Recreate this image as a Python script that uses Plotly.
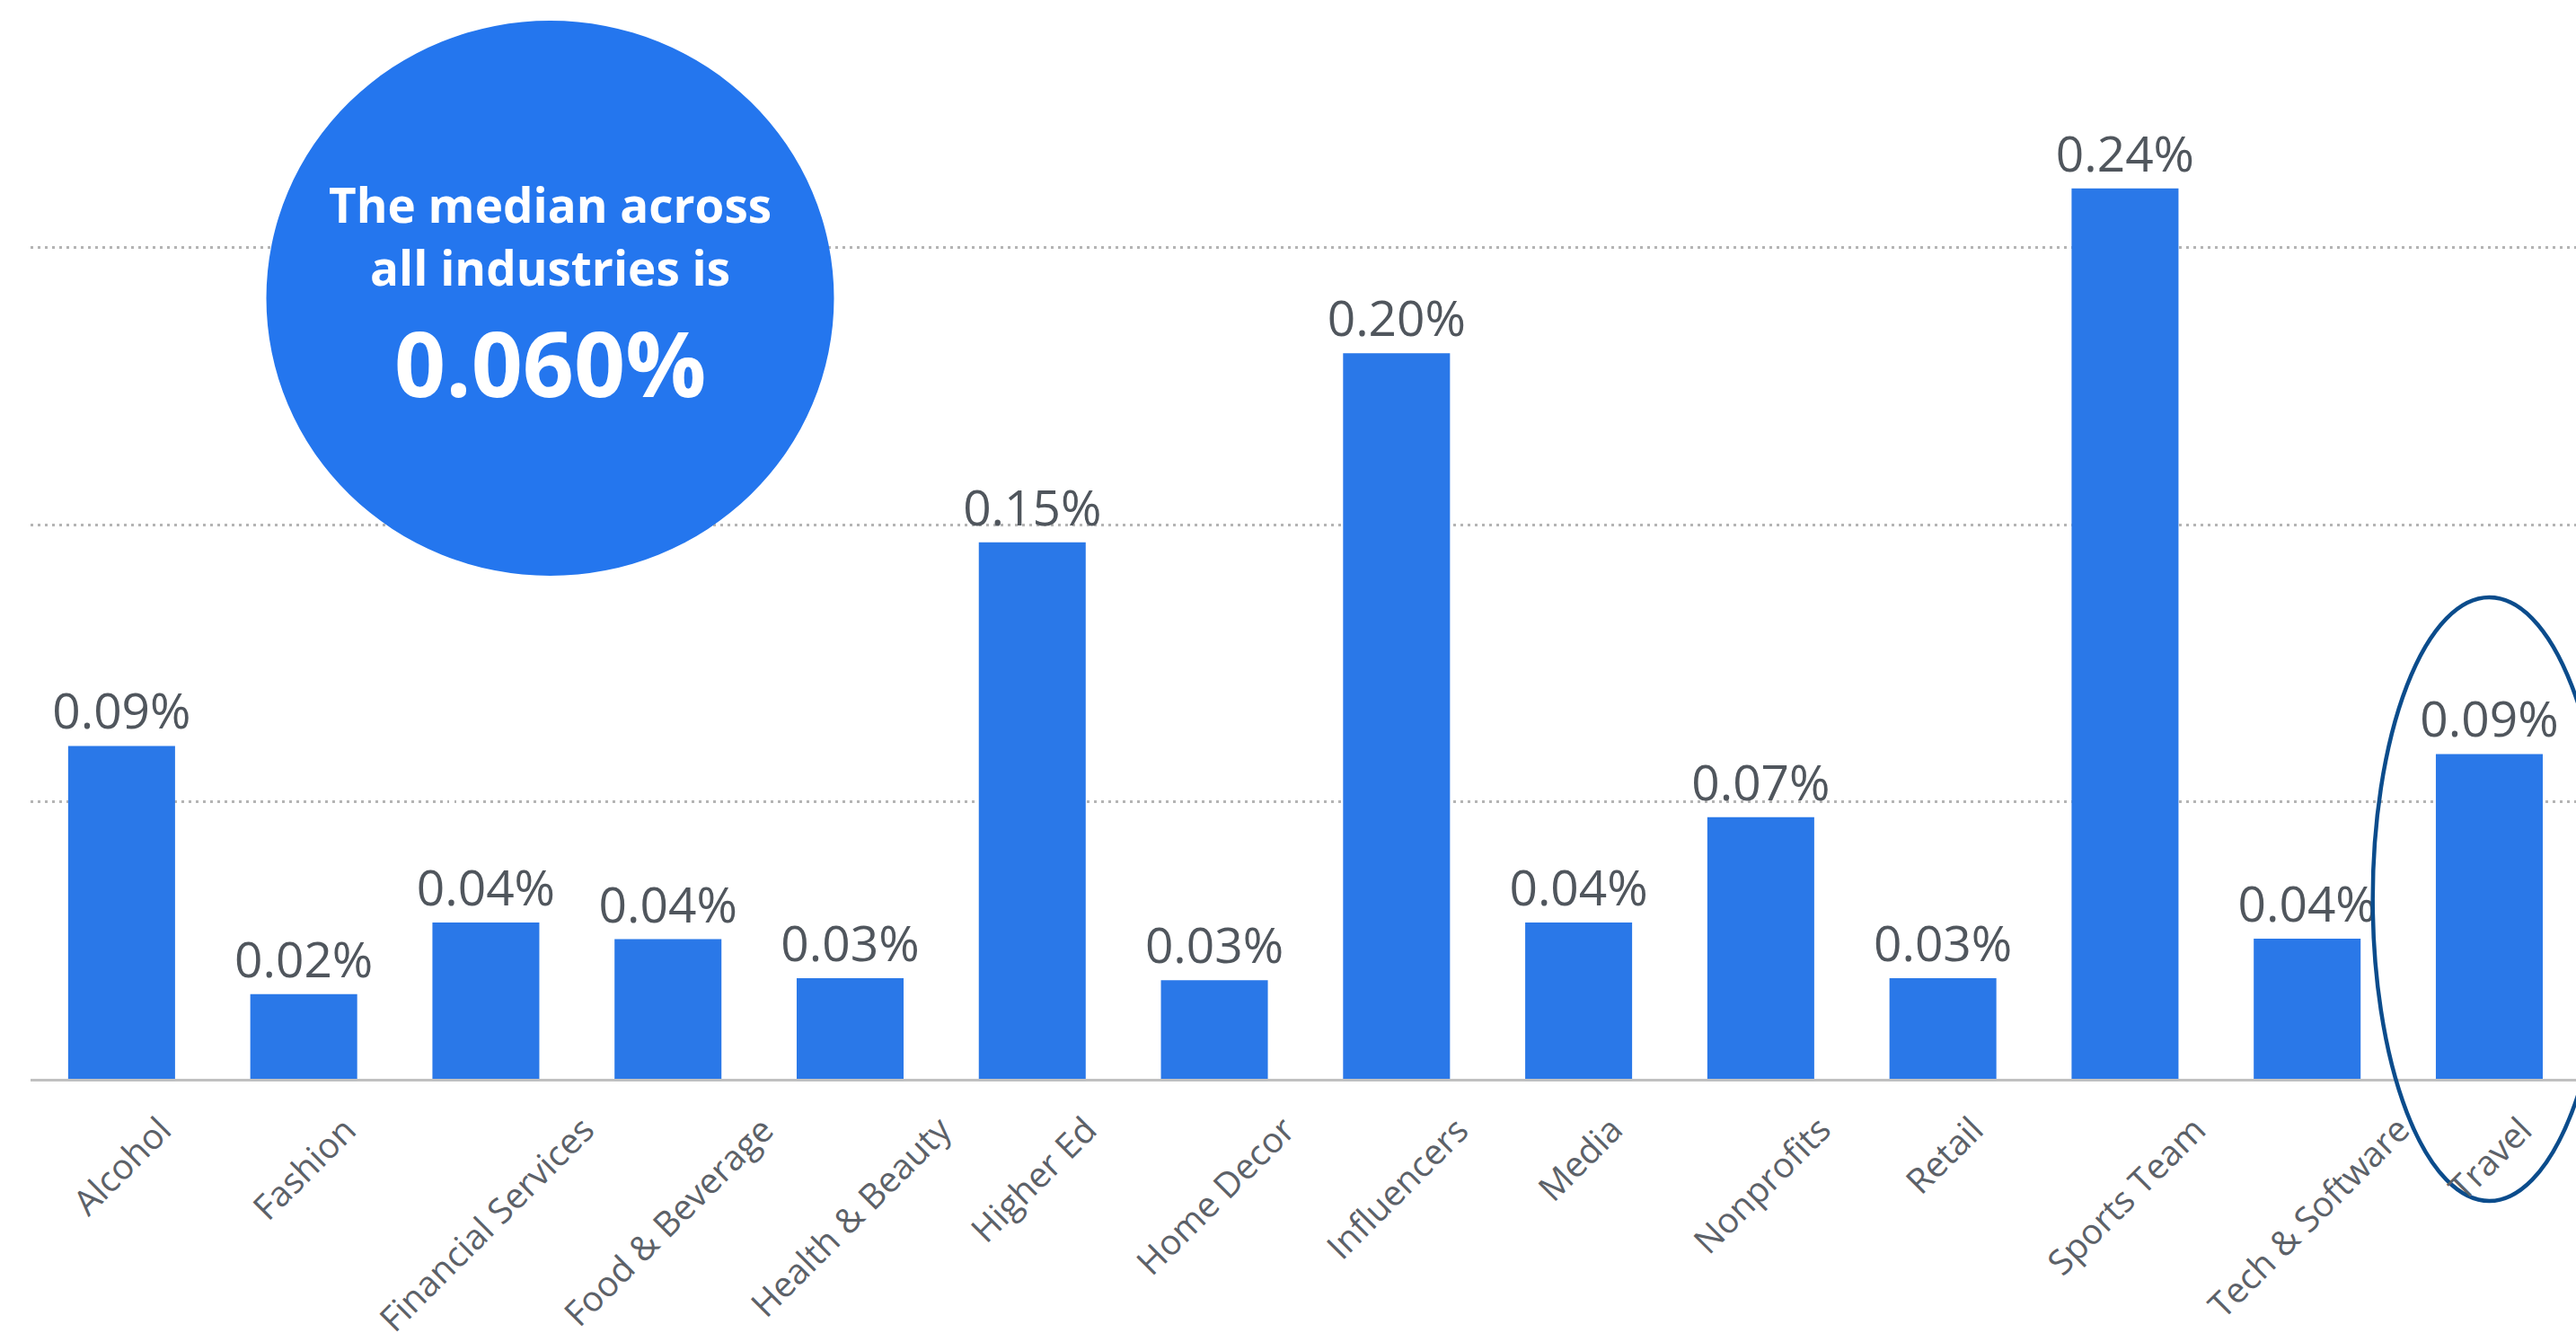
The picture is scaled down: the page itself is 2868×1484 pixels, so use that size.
import plotly.graph_objects as go

categories = ["Alcohol", "Fashion", "Financial Services", "Food & Beverage", "Health & Beauty",
              "Higher Ed", "Home Decor", "Influencers", "Media", "Nonprofits", "Retail",
              "Sports Team", "Tech & Software", "Travel"]
values = [0.0901, 0.0229, 0.0423, 0.0378, 0.0272, 0.1452, 0.0267, 0.1964, 0.0423, 0.0708,
          0.0272, 0.2410, 0.0379, 0.0879]
value_labels = ["0.09%", "0.02%", "0.04%", "0.04%", "0.03%", "0.15%", "0.03%", "0.20%",
                "0.04%", "0.07%", "0.03%", "0.24%", "0.04%", "0.09%"]
median_lines = ["The median across", "all industries is", "0.060%"]
highlight = "Travel"

W, H = 2868, 1484
ML, MR, MT, MB = 34, 0, 0, 283
PH = H - MT - MB  # plot height in px


def py(pix):
    """pixel row (from top of figure) -> paper y"""
    return (PH - (pix - MT)) / PH


fig = go.Figure()
fig.add_trace(go.Bar(
    x=categories, y=values, text=value_labels, textposition="outside",
    constraintext="none",
    marker=dict(color="#2A78E8", line=dict(width=0)),
    textfont=dict(family="Open Sans", size=55, color="#50565d"),
    cliponaxis=False, hoverinfo="skip",
))

# category labels, rotated and centred under each bar
for c in categories:
    fig.add_annotation(x=c, y=py(1228), xref="x", yref="paper", xanchor="center",
                       yanchor="top", textangle=-45, text=c, showarrow=False,
                       font=dict(family="Open Sans", size=39, color="#5c6168"))

# median bubble
cx, cy = (612.5 - ML) / (W - ML - MR), py(332)
fig.add_shape(type="circle", xref="paper", yref="paper",
              xsizemode="pixel", ysizemode="pixel",
              xanchor=cx, yanchor=cy, x0=-316, x1=316, y0=-309, y1=309,
              fillcolor="#2476EE", line=dict(width=0), layer="above")
for txt, yy, sz in [(median_lines[0], 227.5, 53), (median_lines[1], 297.5, 53),
                    (median_lines[2], 403, 100)]:
    fig.add_annotation(x=cx, y=py(yy), xref="paper", yref="paper", xanchor="center",
                       yanchor="middle", text="<b>%s</b>" % txt, showarrow=False,
                       font=dict(family="Open Sans", size=sz, color="white"))

# highlight ellipse around Travel
hi = categories.index(highlight)
fig.add_shape(type="circle", xref="x", yref="paper",
              x0=hi - 0.64, x1=hi + 0.64, y0=py(1337), y1=py(665),
              line=dict(color="#0B4C8C", width=4.5), fillcolor="rgba(0,0,0,0)", layer="above")

fig.update_layout(
    width=W, height=H, margin=dict(l=ML, r=MR, t=MT, b=MB, autoexpand=False),
    paper_bgcolor="white", plot_bgcolor="white", bargap=0.413, showlegend=False,
    xaxis=dict(range=[-0.5, 13.476], showline=True, linecolor="#c0c0c0",
               linewidth=3, ticks="", showgrid=False, automargin=False,
               showticklabels=False),
    yaxis=dict(range=[0, 0.29198], dtick=0.075, tick0=0, showticklabels=False, zeroline=False,
               showgrid=True, gridcolor="#b4b4b4", gridwidth=2.5, griddash="2.5px,5.5px",
               showline=False, automargin=False),
)

fig.write_html("out.html")
